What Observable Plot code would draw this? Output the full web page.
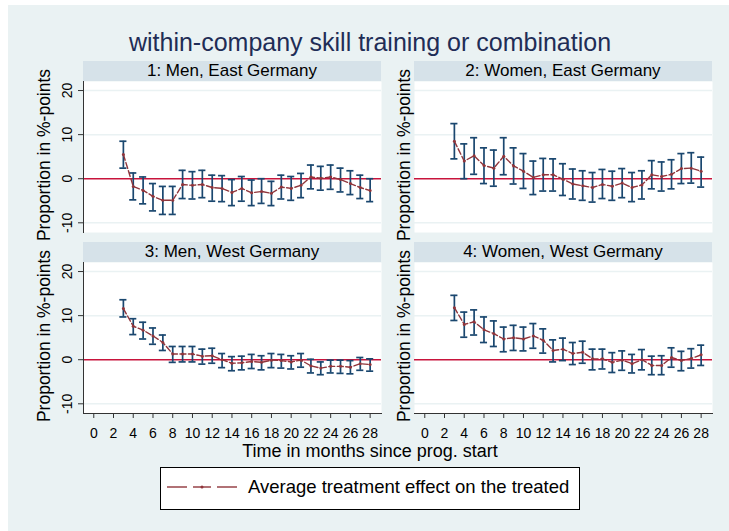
<!DOCTYPE html>
<html>
<head>
<meta charset="utf-8">
<script src="https://cdn.jsdelivr.net/npm/d3@7"></script>
<script src="https://cdn.jsdelivr.net/npm/@observablehq/plot@0.6"></script>
<style>
  body { margin: 0; background: #ffffff; font-family: "Liberation Sans", Arial, sans-serif; }
  #chart { position: relative; width: 729px; height: 531px; overflow: hidden; }
  .bg { position: absolute; left: 8px; top: 5px; right: 0; bottom: 0; background: #eaf2f3; }
  .strip { position: absolute; width: 298px; height: 20px; line-height: 20px; background: #d6e2e9;
           text-align: center; font-size: 17px; color: #000; white-space: nowrap; }
  .title { position: absolute; left: 0; width: 740px; top: 27px; height: 30px; line-height: 30px;
           text-align: center; font-size: 25px; color: #1f2d56; white-space: nowrap; }
  .xtitle { position: absolute; left: 0; width: 740px; top: 440px; height: 22px; line-height: 22px;
            text-align: center; font-size: 18px; color: #000; white-space: nowrap; }
  .legend { position: absolute; left: 160px; top: 467px; width: 418px; height: 41px;
            background: #fff; border: 1px solid #000; }
  .legend span { position: absolute; left: 87px; top: 8px; line-height: 22px; font-size: 18.5px; color: #000; white-space: nowrap; }
  .legend svg { position: absolute; left: 0; top: 0; }
</style>
</head>
<body>
<div id="chart">
  <div class="bg"></div>
</div>
<script>
// ---- data ----
const months = [3,4,5,6,7,8,9,10,11,12,13,14,15,16,17,18,19,20,21,22,23,24,25,26,27,28];

const menEastEst = [5.5,-1.75,-2.65,-4.0,-4.9,-4.9,-1.3,-1.5,-1.3,-2.0,-2.2,-3.1,-2.2,-3.2,-2.9,-3.3,-1.9,-2.2,-1.5,0.4,0.1,0.4,-0.2,-1.1,-2.0,-2.7];
const menEastHi  = [8.5,1.3,0.4,-1.1,-1.75,-1.75,1.9,1.6,1.9,0.8,0.7,-0.2,0.5,-0.3,0.0,-0.6,0.8,0.5,1.2,3.1,2.8,3.1,2.4,1.8,0.8,0.0];
const menEastLo  = [2.4,-4.8,-5.7,-7.3,-8.1,-8.1,-4.5,-4.6,-4.3,-5.1,-5.2,-6.1,-5.1,-6.1,-5.6,-6.1,-4.6,-4.9,-4.3,-2.3,-2.6,-2.4,-3.0,-3.6,-4.5,-5.2];

const womenEastEst = [8.5,4.0,5.2,3.0,2.4,5.1,2.9,1.7,0.3,0.9,0.9,-0.1,-1.2,-1.6,-2.0,-1.3,-1.7,-1.0,-2.0,-1.4,0.9,0.5,1.0,2.3,2.4,1.7];
const womenEastHi  = [12.5,7.9,9.3,7.0,6.5,9.3,7.0,5.7,4.0,4.6,4.5,3.4,2.2,1.8,1.4,2.1,1.7,2.3,1.4,1.8,4.1,3.8,4.3,5.7,5.9,4.9];
const womenEastLo  = [4.5,0.0,1.0,-1.1,-1.7,0.9,-1.2,-2.2,-3.6,-2.8,-2.8,-3.8,-4.6,-4.9,-5.3,-4.5,-4.9,-4.3,-5.2,-4.6,-2.3,-2.8,-2.3,-1.1,-1.0,-1.9];

const menWestEst = [11.6,7.6,6.7,5.4,3.9,1.3,1.3,1.3,0.8,0.9,0.0,-0.8,-0.7,-0.4,-0.6,-0.1,-0.2,-0.5,-0.1,-1.4,-1.9,-1.5,-1.5,-1.7,-0.9,-1.1];
const menWestHi  = [13.6,9.3,8.5,7.2,5.6,3.0,3.0,3.0,2.4,2.6,1.4,0.7,0.8,1.2,0.9,1.4,1.2,0.9,1.4,0.1,-0.5,-0.1,-0.1,-0.2,0.5,0.2];
const menWestLo  = [9.7,5.7,4.7,3.5,2.1,-0.6,-0.5,-0.5,-1.0,-0.8,-1.8,-2.5,-2.3,-2.0,-2.3,-1.8,-1.9,-2.1,-1.7,-3.0,-3.4,-3.0,-3.1,-3.2,-2.4,-2.6];

const womenWestEst = [11.8,8.0,8.6,6.8,5.9,4.7,5.0,4.7,5.4,4.4,2.1,2.4,1.4,1.7,0.2,0.2,-0.6,-0.1,-0.9,0.0,-1.3,-1.3,0.5,-0.2,0.3,1.1];
const womenWestHi  = [14.6,10.8,11.3,9.7,8.8,7.4,7.8,7.4,8.2,7.0,4.5,4.9,3.9,4.2,2.4,2.4,1.6,2.0,1.2,2.3,0.8,0.9,2.7,1.9,2.5,3.3];
const womenWestLo  = [8.9,5.1,5.6,3.9,3.0,1.8,2.1,2.0,2.6,1.5,-0.5,-0.2,-1.1,-0.8,-2.3,-2.1,-2.9,-2.4,-3.0,-2.3,-3.4,-3.4,-1.7,-2.5,-1.9,-1.3];

const panelTitles = ["1: Men, East Germany", "2: Women, East Germany", "3: Men, West Germany", "4: Women, West Germany"];
const yTicks = [-10, 0, 10, 20];
const xTicks = [0,2,4,6,8,10,12,14,16,18,20,22,24,26,28];
const mainTitle = "within-company skill training or combination";
const xTitle = "Time in months since prog. start";
const yTitle = "Proportion in %-points";
const legendLabel = "Average treatment effect on the treated";

// ---- styles ----
const C = {
  ci: "#1a476f", est: "#90353b", zero: "#c8143c", grid: "#eaf2f3", axis: "#333333"
};
const FONT = "Liberation Sans, Arial, sans-serif";

function panel(est, lo, hi, {left, bottom}) {
  const rows = months.map((m, i) => ({m, est: est[i], lo: lo[i], hi: hi[i]}));
  const width = left ? 355 : 330;
  const marginLeft = left ? 53 : 24;
  const marginRight = left ? 4 : 8;
  const marginTop = 6;
  const marginBottom = bottom ? 30 : 4;
  const height = marginTop + 151 + marginBottom;
  const marks = [
    Plot.frame({fill: "white", stroke: null}),
    Plot.ruleY(yTicks.filter(v => v !== 0), {stroke: C.grid, strokeWidth: 1.5}),
    Plot.ruleY([0], {stroke: C.zero, strokeWidth: 1.5}),
    Plot.ruleX(rows, {x: "m", y1: "lo", y2: "hi", stroke: C.ci, strokeWidth: 1.7}),
    Plot.ruleY(rows, {y: "hi", x1: d => d.m - 0.36, x2: d => d.m + 0.36, stroke: C.ci, strokeWidth: 1.7}),
    Plot.ruleY(rows, {y: "lo", x1: d => d.m - 0.36, x2: d => d.m + 0.36, stroke: C.ci, strokeWidth: 1.7}),
    Plot.line(rows, {x: "m", y: "est", stroke: C.est, strokeWidth: 1.4, strokeDasharray: "6,2.5"}),
    Plot.dot(rows, {x: "m", y: "est", r: 1.5, fill: C.est, stroke: null}),
    Plot.text([yTitle], {frameAnchor: "left", textAnchor: "middle", rotate: -90,
                         dx: left ? -39 : -10, dy: -2, fontSize: 17.5, fill: "#000"})
  ];
  if (left) {
    marks.push(
      Plot.frame({anchor: "left", stroke: C.axis, strokeWidth: 1}),
      Plot.axisY({ticks: yTicks, tickSize: 5, tickFormat: () => "", label: null, stroke: C.axis}),
      Plot.text(yTicks, {y: d => d, text: d => String(d), frameAnchor: "left", textAnchor: "middle",
                         dx: -16, rotate: -90, fontSize: 14, fill: "#000"})
    );
  }
  if (bottom) {
    marks.push(
      Plot.frame({anchor: "bottom", stroke: C.axis, strokeWidth: 1}),
      Plot.axisX({ticks: xTicks, tickSize: 5, tickPadding: 10, fontSize: 14, label: null,
                  stroke: C.axis, fill: "#000"})
    );
  }
  return Plot.plot({
    width, height, marginLeft, marginRight, marginTop, marginBottom,
    x: {domain: [-1.04, 29.15], axis: bottom ? undefined : null},
    y: {domain: [-12.2, 22.05], axis: left ? undefined : null},
    style: {background: "transparent", overflow: "visible", fontFamily: FONT, color: "#000"},
    marks
  });
}

const chart = document.getElementById("chart");
function place(el, x, y) {
  el.style.position = "absolute";
  el.style.left = x + "px";
  el.style.top = y + "px";
  chart.appendChild(el);
  return el;
}
function div(cls, text, x, y) {
  const d = document.createElement("div");
  d.className = cls;
  d.textContent = text;
  if (x !== undefined) { d.style.left = x + "px"; d.style.top = y + "px"; }
  chart.appendChild(d);
  return d;
}

div("title", mainTitle);

place(panel(menEastEst, menEastLo, menEastHi, {left: true, bottom: false}), 30, 75);
place(panel(womenEastEst, womenEastLo, womenEastHi, {left: false, bottom: false}), 390, 75);
place(panel(menWestEst, menWestLo, menWestHi, {left: true, bottom: true}), 30, 256);
place(panel(womenWestEst, womenWestLo, womenWestHi, {left: false, bottom: true}), 390, 256);

div("strip", panelTitles[0], 83, 61);
div("strip", panelTitles[1], 414, 61);
div("strip", panelTitles[2], 83, 242);
div("strip", panelTitles[3], 414, 242);

div("xtitle", xTitle);

// legend
const lg = document.createElement("div");
lg.className = "legend";
lg.innerHTML = `<svg width="90" height="41">
  <line x1="6" y1="19" x2="26" y2="19" stroke="${C.est}" stroke-width="1.4"/>
  <line x1="32" y1="19" x2="50" y2="19" stroke="${C.est}" stroke-width="1.4"/>
  <circle cx="41" cy="19" r="1.5" fill="${C.est}"/>
  <line x1="56" y1="19" x2="76" y2="19" stroke="${C.est}" stroke-width="1.4"/>
</svg><span></span>`;
lg.querySelector("span").textContent = legendLabel;
chart.appendChild(lg);
</script>
</body>
</html>
